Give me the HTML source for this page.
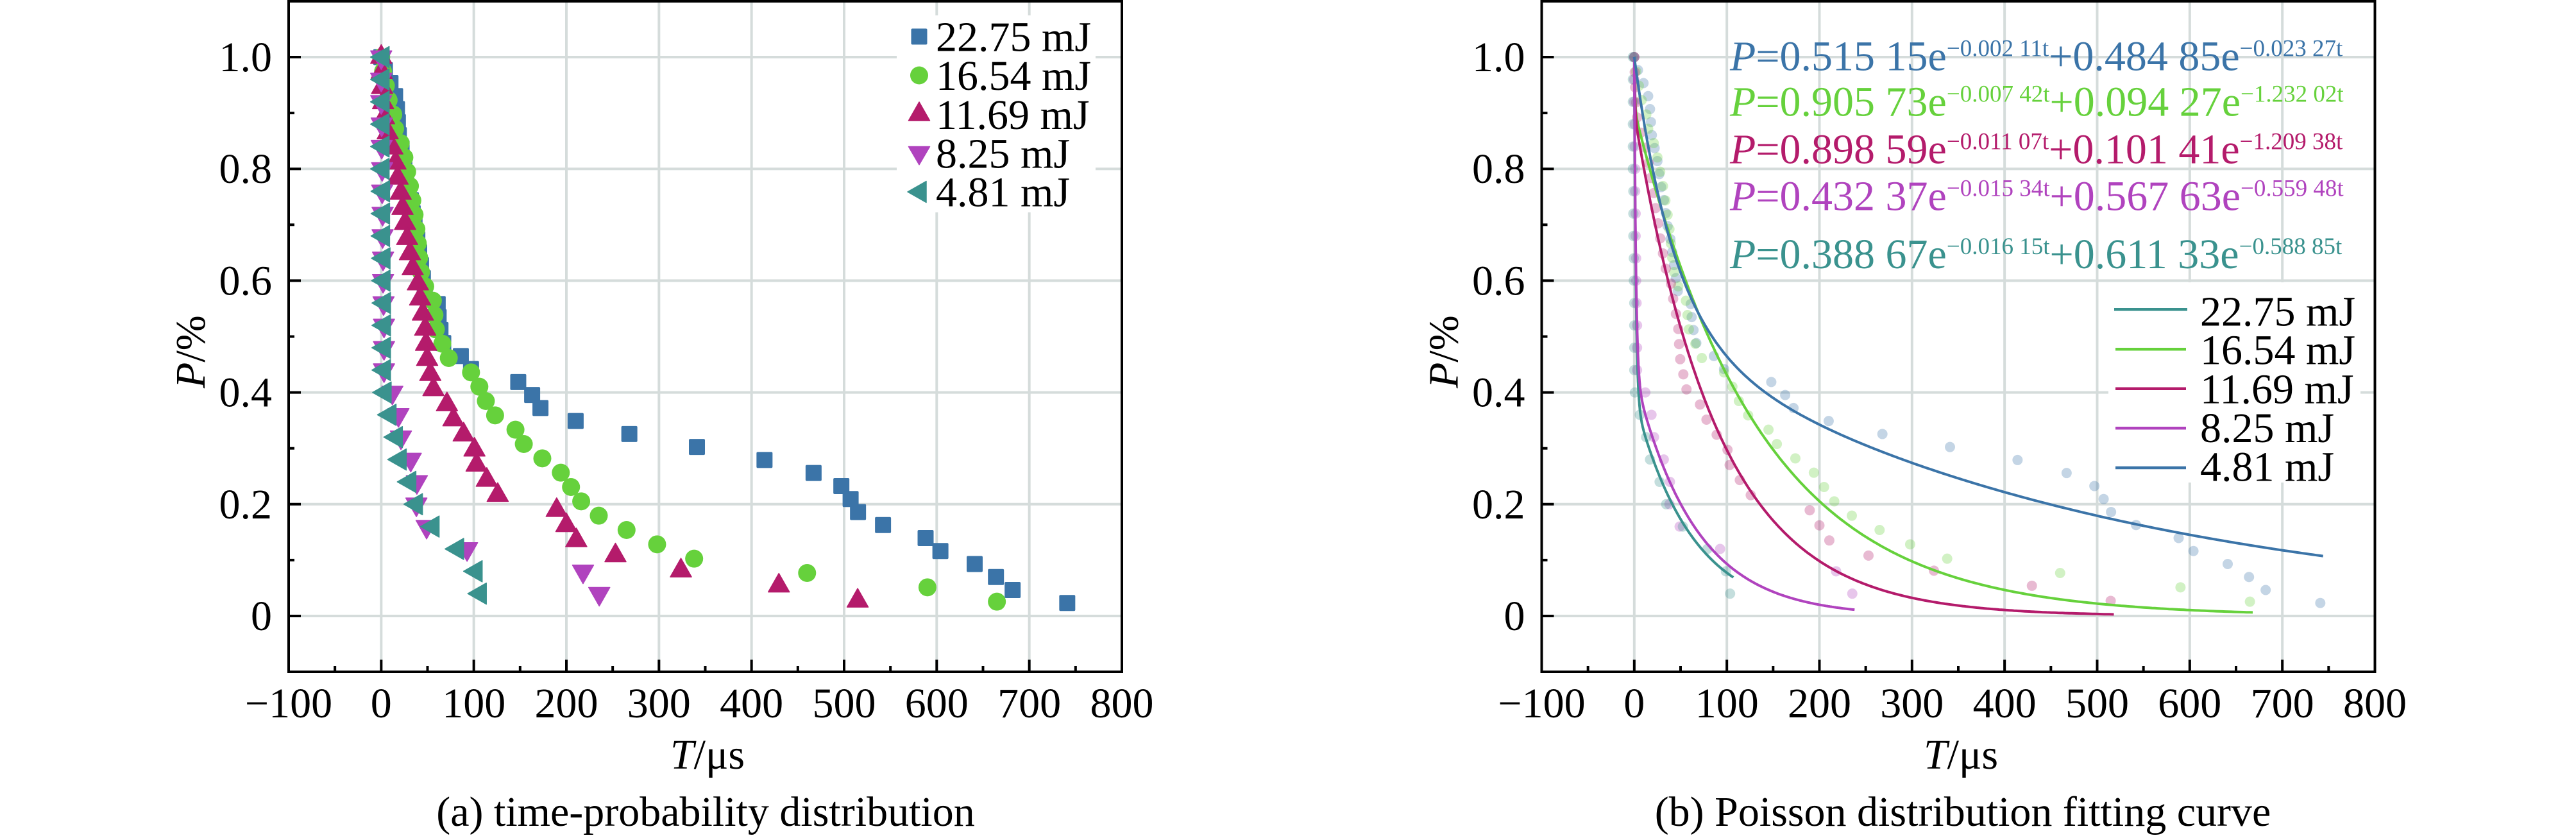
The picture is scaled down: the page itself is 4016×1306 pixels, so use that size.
<!DOCTYPE html>
<html>
<head>
<meta charset="utf-8">
<style>
html,body{margin:0;padding:0;background:#fff;}
svg{display:block;}
text{font-family:"Liberation Serif","Times New Roman",serif;}
</style>
</head>
<body>
<svg id="S" xmlns="http://www.w3.org/2000/svg" width="4016" height="1306" viewBox="0 0 4016 1306">
<rect x="0" y="0" width="4016" height="1306" fill="#fff"/>
<g id="grid1"></g>
<g id="grid2"></g>
<rect x="1398" y="24" width="310" height="307" fill="#fff"/>
<rect x="3287" y="440" width="393" height="312" fill="#fff"/>
<g id="data1"></g>
<g id="data2"></g>
<g id="frame1"></g>
<g id="frame2"></g>

<!-- Left legend -->
<rect x="1420.5" y="44.5" width="25" height="25" rx="2" fill="#3b74a8"/>
<circle cx="1433" cy="117.5" r="14" fill="#66d13c"/>
<polygon points="1433,159 1416.5,188 1449.5,188" fill="#b41b6b" stroke="#b41b6b" stroke-width="1.5" stroke-linejoin="round"/>
<polygon points="1416.5,228.5 1449.5,228.5 1433,256.7" fill="#b043be" stroke="#b043be" stroke-width="1.5" stroke-linejoin="round"/>
<polygon points="1415,299 1444,282.5 1444,315.5" fill="#3a928e" stroke="#3a928e" stroke-width="1.5" stroke-linejoin="round"/>
<g font-size="66" fill="#000">
<text x="1459" y="79.3">22.75 mJ</text>
<text x="1459" y="140">16.54 mJ</text>
<text x="1459" y="201">11.69 mJ</text>
<text x="1459" y="261.7">8.25 mJ</text>
<text x="1459" y="321.7">4.81 mJ</text>
</g>

<!-- Right legend -->
<g stroke-width="4.5">
<line x1="3296" y1="482.3" x2="3410" y2="482.3" stroke="#3a928e"/>
<line x1="3298" y1="544.3" x2="3408" y2="544.3" stroke="#66d13c"/>
<line x1="3298" y1="605.7" x2="3408" y2="605.7" stroke="#b41b6b"/>
<line x1="3298" y1="667.3" x2="3408" y2="667.3" stroke="#b043be"/>
<line x1="3298" y1="729" x2="3408" y2="729" stroke="#3b74a8"/>
</g>
<g font-size="66" fill="#000">
<text x="3430" y="507.3">22.75 mJ</text>
<text x="3430" y="567.7">16.54 mJ</text>
<text x="3430" y="628.3">11.69 mJ</text>
<text x="3430" y="689">8.25 mJ</text>
<text x="3430" y="749.3">4.81 mJ</text>
</g>

<!-- Equations -->
<g font-size="66">
<text x="2697" y="109.3" fill="#3b74a8"><tspan font-style="italic">P</tspan>=0.515 15e<tspan font-size="37" dy="-22">−0.002 11t</tspan><tspan dy="22">+0.484 85e</tspan><tspan font-size="37" dy="-22">−0.023 27t</tspan></text>
<text x="2697" y="180.7" fill="#66d13c"><tspan font-style="italic">P</tspan>=0.905 73e<tspan font-size="37" dy="-22">−0.007 42t</tspan><tspan dy="22">+0.094 27e</tspan><tspan font-size="37" dy="-22">−1.232 02t</tspan></text>
<text x="2697" y="254.3" fill="#b41b6b"><tspan font-style="italic">P</tspan>=0.898 59e<tspan font-size="37" dy="-22">−0.011 07t</tspan><tspan dy="22">+0.101 41e</tspan><tspan font-size="37" dy="-22">−1.209 38t</tspan></text>
<text x="2697" y="327.3" fill="#b043be"><tspan font-style="italic">P</tspan>=0.432 37e<tspan font-size="37" dy="-22">−0.015 34t</tspan><tspan dy="22">+0.567 63e</tspan><tspan font-size="37" dy="-22">−0.559 48t</tspan></text>
<text x="2697" y="418" fill="#3a928e"><tspan font-style="italic">P</tspan>=0.388 67e<tspan font-size="37" dy="-22">−0.016 15t</tspan><tspan dy="22">+0.611 33e</tspan><tspan font-size="37" dy="-22">−0.588 85t</tspan></text>
</g>

<!-- Tick labels -->
<g font-size="66" fill="#000" text-anchor="end">
<text x="424" y="111">1.0</text>
<text x="424" y="285.2">0.8</text>
<text x="424" y="459.4">0.6</text>
<text x="424" y="633.6">0.4</text>
<text x="424" y="807.8">0.2</text>
<text x="424" y="982">0</text>
<text x="2377.5" y="111">1.0</text>
<text x="2377.5" y="285.2">0.8</text>
<text x="2377.5" y="459.4">0.6</text>
<text x="2377.5" y="633.6">0.4</text>
<text x="2377.5" y="807.8">0.2</text>
<text x="2377.5" y="982">0</text>
</g>
<g font-size="66" fill="#000" text-anchor="middle">
<text x="450" y="1118">−100</text>
<text x="594.3" y="1118">0</text>
<text x="738.7" y="1118">100</text>
<text x="883" y="1118">200</text>
<text x="1027.3" y="1118">300</text>
<text x="1171.6" y="1118">400</text>
<text x="1316" y="1118">500</text>
<text x="1460.3" y="1118">600</text>
<text x="1604.6" y="1118">700</text>
<text x="1749" y="1118">800</text>
<text x="2403.5" y="1118">−100</text>
<text x="2547.8" y="1118">0</text>
<text x="2692.2" y="1118">100</text>
<text x="2836.5" y="1118">200</text>
<text x="2980.8" y="1118">300</text>
<text x="3125.1" y="1118">400</text>
<text x="3269.5" y="1118">500</text>
<text x="3413.8" y="1118">600</text>
<text x="3558.1" y="1118">700</text>
<text x="3702.5" y="1118">800</text>

<text x="1103" y="1198"><tspan font-style="italic">T</tspan>/μs</text>
<text x="3057" y="1198"><tspan font-style="italic">T</tspan>/μs</text>
<text x="1100" y="1287">(a) time-probability distribution</text>
<text x="3060" y="1287">(b) Poisson distribution fitting curve</text>
</g>
<g font-size="66" fill="#000" text-anchor="start">
<text transform="translate(319,605) rotate(-90)"><tspan font-style="italic">P</tspan>/%</text>
<text transform="translate(2272.5,605) rotate(-90)"><tspan font-style="italic">P</tspan>/%</text>
</g>
</svg>

<script>
(function(){
const NS='http://www.w3.org/2000/svg';
function el(p,tag,a){const e=document.createElementNS(NS,tag);for(const k in a)e.setAttribute(k,a[k]);p.appendChild(e);return e;}
const K=1299/900;
const Y=p=>960-871*p;
const C={b:'#3b74a8',g:'#66d13c',c:'#b41b6b',m:'#b043be',t:'#3a928e'};
const series=[
 {c:C.b,m:'sq',t:[0,4,10,15,17,18,19,22,25,27,29,32,34,36,39,41,43,45,47,61,62,64,67,86,97,148,163,172,210,268,341,414,467,497,507,515,542,588,604,641,664,682,741]},
 {c:C.g,m:'ci',t:[0,2,5,8,13,15,21,25,28,31,33.6,36,38,39.5,41,43,47.5,55.8,57.5,59,66,73,97,106,113,123,145,154,174,194,205,216,235,265,298,338,460,590,665]},
 {c:C.c,m:'up',t:[0,0.5,1,2,3,7,12,15.4,17.7,21,23,25.8,28,31,34,39.6,42,45,47.5,48.4,49.6,53,56.4,71,78,89,100.7,103,114,125.8,189.5,200,210.7,253,323.7,429.5,514.6]},
 {c:C.m,m:'dn',t:[0,0,0,0.5,0.5,1,1,1.5,1.5,2,2,2.5,3,3,3,12,18.6,21.3,31.9,38.5,38,49,92.7,218,235.5]},
 {c:C.t,m:'lf',t:[-1.5,-1.5,-1.5,-1.5,-1.5,-1.5,-1,-1,-1,-0.5,-0.5,0,0,0,0,0.7,6,12.8,17,27.4,34.5,52.5,79,99,103.5]}
];
function axes(ox,gid,fid){
  const X=t=>ox+(t+100)*K;
  const g=document.getElementById(gid), f=document.getElementById(fid);
  for(let t=0;t<=700;t+=100) el(g,'line',{x1:X(t),y1:2,x2:X(t),y2:1047,stroke:'#d5dcdb','stroke-width':4});
  for(let i=0;i<=5;i++){const y=Y(i*0.2);el(g,'line',{x1:ox,y1:y,x2:ox+1299,y2:y,stroke:'#d5dcdb','stroke-width':4});}
  el(f,'rect',{x:ox,y:2,width:1299,height:1045,fill:'none',stroke:'#000','stroke-width':4});
  for(let i=-1;i<=15;i++){const t=i*50;const maj=(i%2===0);const x=X(t);
    el(f,'line',{x1:x,y1:1047,x2:x,y2:1047-(maj?19:9),stroke:'#000','stroke-width':4});}
  for(let i=0;i<=10;i++){const y=Y(i*0.1);const maj=(i%2===0);
    el(f,'line',{x1:ox,y1:y,x2:ox+(maj?19:9),y2:y,stroke:'#000','stroke-width':4});}
  return X;
}
const X1=axes(450,'grid1','frame1');
const X2=axes(2403.5,'grid2','frame2');
const d1=document.getElementById('data1'), d2=document.getElementById('data2');
function marker(p,m,cx,cy,c){
  const a={fill:c,stroke:c,'stroke-width':1.5,'stroke-linejoin':'round'};
  if(m==='sq'){el(p,'rect',{x:cx-12.5,y:cy-12.5,width:25,height:25,rx:2,fill:c});}
  else if(m==='ci'){el(p,'circle',{cx:cx,cy:cy,r:14,fill:c});}
  else if(m==='up'){a.points=`${cx},${cy-19.3} ${cx-16.5},${cy+9.7} ${cx+16.5},${cy+9.7}`;el(p,'polygon',a);}
  else if(m==='dn'){a.points=`${cx},${cy+19.3} ${cx-16.5},${cy-9.7} ${cx+16.5},${cy-9.7}`;el(p,'polygon',a);}
  else if(m==='lf'){a.points=`${cx-14.5},${cy} ${cx+14.5},${cy-16.5} ${cx+14.5},${cy+16.5}`;el(p,'polygon',a);}
}
series.forEach(s=>{const N=s.t.length;s.t.forEach((t,i)=>{const P=(N-i)/N;marker(d1,s.m,X1(t),Y(P),s.c);});});
series.forEach(s=>{const N=s.t.length;s.t.forEach((t,i)=>{const P=(N-i)/N;el(d2,'circle',{cx:X2(t),cy:Y(P),r:8,fill:s.c,'fill-opacity':0.3});});});
const curves=[
 [0.38867,0.01615,0.61133,0.58885,107,C.t],
 [0.90573,0.00742,0.09427,1.23202,668,C.g],
 [0.89859,0.01107,0.10141,1.20938,518,C.c],
 [0.43237,0.01534,0.56763,0.55948,238,C.m],
 [0.51515,0.00211,0.48485,0.02327,744,C.b]
];
curves.forEach(cv=>{
  const [a,b,c,d,te,col]=cv;const pts=[];
  for(let i=0;i<=400;i++){const u=i/400;const t=te*u*u;const p=a*Math.exp(-b*t)+c*Math.exp(-d*t);pts.push(X2(t).toFixed(1)+','+Y(p).toFixed(1));}
  el(d2,'path',{d:'M'+pts.join('L'),fill:'none',stroke:col,'stroke-width':4,'stroke-linejoin':'round'});
});
})();
</script>
</body>
</html>
